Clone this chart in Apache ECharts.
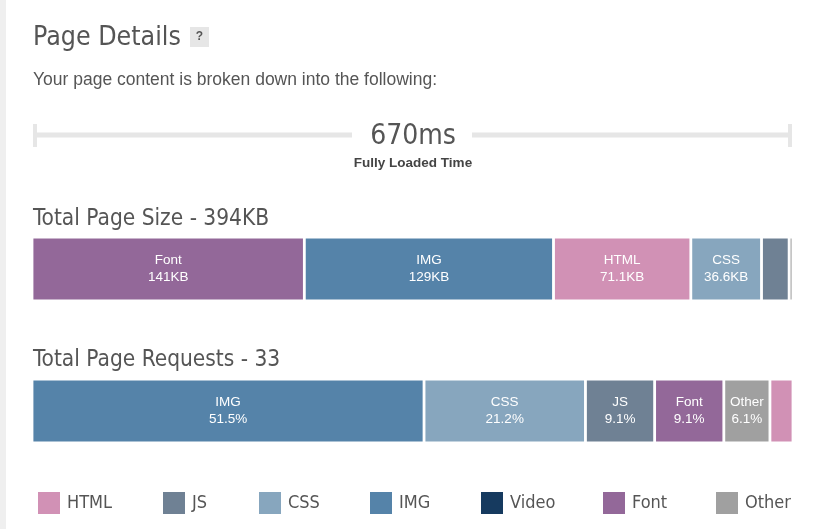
<!DOCTYPE html>
<html>
<head>
<meta charset="utf-8">
<script src="https://cdn.jsdelivr.net/npm/echarts@6/dist/echarts.min.js"></script>
<style>
  html, body { margin: 0; padding: 0; background: #fff; }
  #chart { width: 817px; height: 529px; }
</style>
</head>
<body>
<div id="chart"></div>
<script>
// 分类与颜色（图例顺序）
const categories = ['HTML', 'JS', 'CSS', 'IMG', 'Video', 'Font', 'Other'];
const colors = ['#d191b5', '#6f8194', '#87a6be', '#5583a9', '#163a5f', '#936899', '#a0a0a0'];

// 页面大小（KB），按条形中的顺序
const sizeOrder = ['Font', 'IMG', 'HTML', 'CSS', 'JS', 'Other'];
const sizeValues = [141, 129, 71.1, 36.6, 14.3, 2];

// 请求数，按条形中的顺序
const reqOrder = ['IMG', 'CSS', 'JS', 'Font', 'Other', 'HTML'];
const reqValues = [17, 7, 3, 3, 2, 1];

const loadTime = '670ms';

// 图例位置
const legendLeft = [38, 163, 259, 370, 481, 603, 716];

const sizeTotal = Math.round(sizeValues.reduce((a, b) => a + b, 0));
const reqTotal = reqValues.reduce((a, b) => a + b, 0);

const chart = echarts.init(document.getElementById('chart'));

const textColor = '#555';
const headFont = '"DejaVu Sans Condensed", "Liberation Sans Narrow", sans-serif';
const labelFont = 'Arial, "Liberation Sans", sans-serif';

function colorOf(name) {
    return colors[categories.indexOf(name)];
}

const series = [];

// 页面大小条形
sizeOrder.forEach((name, i) => {
    series.push({
        name: name,
        type: 'bar',
        stack: 'size',
        xAxisIndex: 0,
        yAxisIndex: 0,
        barWidth: 64,
        itemStyle: { color: colorOf(name), borderColor: '#fff', borderWidth: 1.4 },
        label: {
            show: sizeValues[i] > 30,
            position: 'inside',
            color: '#fff',
            fontFamily: labelFont,
            fontSize: 13.5,
            lineHeight: 17,
            formatter: p => name + '\n' + sizeValues[i] + 'KB'
        },
        data: [sizeValues[i]]
    });
});

// 请求数条形
reqOrder.forEach((name, i) => {
    series.push({
        name: name,
        type: 'bar',
        stack: 'req',
        xAxisIndex: 1,
        yAxisIndex: 1,
        barWidth: 64,
        itemStyle: { color: colorOf(name), borderColor: '#fff', borderWidth: 1.4 },
        label: {
            show: reqValues[i] > 1,
            position: 'inside',
            color: '#fff',
            fontFamily: labelFont,
            fontSize: 13.5,
            lineHeight: 17,
            formatter: p => name + '\n' + (reqValues[i] / reqTotal * 100).toFixed(1) + '%'
        },
        data: [reqValues[i]]
    });
});

// Video 没有数据，只用于图例
series.push({
    name: 'Video', type: 'bar', stack: 'size', xAxisIndex: 0, yAxisIndex: 0,
    itemStyle: { color: colorOf('Video') }, data: [0]
});

const legends = categories.map((name, i) => ({
    data: [name],
    left: legendLeft[i],
    top: 492,
    itemWidth: 22,
    itemHeight: 22,
    itemGap: 0,
    padding: 0,
    icon: 'rect',
    selectedMode: false,
    itemStyle: { borderWidth: 0 },
    textStyle: { color: textColor, fontSize: 18, fontFamily: headFont, padding: [2, 0, 0, 2] }
}));

const option = {
    animation: false,
    color: colors,
    legend: legends,
    grid: [
        { left: 32, right: 24, top: 237, height: 64 },
        { left: 32, right: 24, top: 379, height: 64 }
    ],
    xAxis: [
        { type: 'value', gridIndex: 0, min: 0, max: sizeValues.reduce((a, b) => a + b, 0), show: false },
        { type: 'value', gridIndex: 1, min: 0, max: reqTotal, show: false }
    ],
    yAxis: [
        { type: 'category', gridIndex: 0, data: ['size'], show: false },
        { type: 'category', gridIndex: 1, data: ['req'], show: false }
    ],
    series: series,
    graphic: [
        // 左侧灰条
        { type: 'rect', shape: { x: 0, y: 0, width: 6, height: 529 }, style: { fill: '#efefef' } },
        // 标题
        { type: 'text', x: 33, y: 38.5, style: { text: 'Page Details', fontSize: 26.5, fontFamily: headFont, fill: textColor, verticalAlign: 'middle' } },
        { type: 'rect', shape: { x: 190, y: 27, width: 19, height: 20 }, style: { fill: '#e6e6e6' } },
        { type: 'text', x: 199.5, y: 37, style: { text: '?', fontSize: 12, fontWeight: 'bold', fontFamily: labelFont, fill: textColor, align: 'center', verticalAlign: 'middle' } },
        { type: 'text', x: 33, y: 80, style: { text: 'Your page content is broken down into the following:', fontSize: 17.5, fontFamily: labelFont, fill: textColor, verticalAlign: 'middle' } },
        // 加载时间线
        { type: 'line', shape: { x1: 33, y1: 135, x2: 352, y2: 135 }, style: { stroke: '#e6e6e6', lineWidth: 5 } },
        { type: 'line', shape: { x1: 472, y1: 135, x2: 792, y2: 135 }, style: { stroke: '#e6e6e6', lineWidth: 5 } },
        { type: 'line', shape: { x1: 35, y1: 124, x2: 35, y2: 147 }, style: { stroke: '#e6e6e6', lineWidth: 4 } },
        { type: 'line', shape: { x1: 790, y1: 124, x2: 790, y2: 147 }, style: { stroke: '#e6e6e6', lineWidth: 4 } },
        { type: 'text', x: 413, y: 137, style: { text: loadTime, fontSize: 28, fontFamily: headFont, fill: textColor, align: 'center', verticalAlign: 'middle' } },
        { type: 'text', x: 413, y: 163, style: { text: 'Fully Loaded Time', fontSize: 13.5, fontWeight: 'bold', fontFamily: labelFont, fill: '#444', align: 'center', verticalAlign: 'middle' } },
        // 小标题
        { type: 'text', x: 33, y: 219, style: { text: 'Total Page Size - ' + sizeTotal + 'KB', fontSize: 22.5, fontFamily: headFont, fill: textColor, verticalAlign: 'middle' } },
        { type: 'text', x: 33, y: 360, style: { text: 'Total Page Requests - ' + reqTotal, fontSize: 22.5, fontFamily: headFont, fill: textColor, verticalAlign: 'middle' } }
    ]
};

chart.setOption(option);
</script>
</body>
</html>
